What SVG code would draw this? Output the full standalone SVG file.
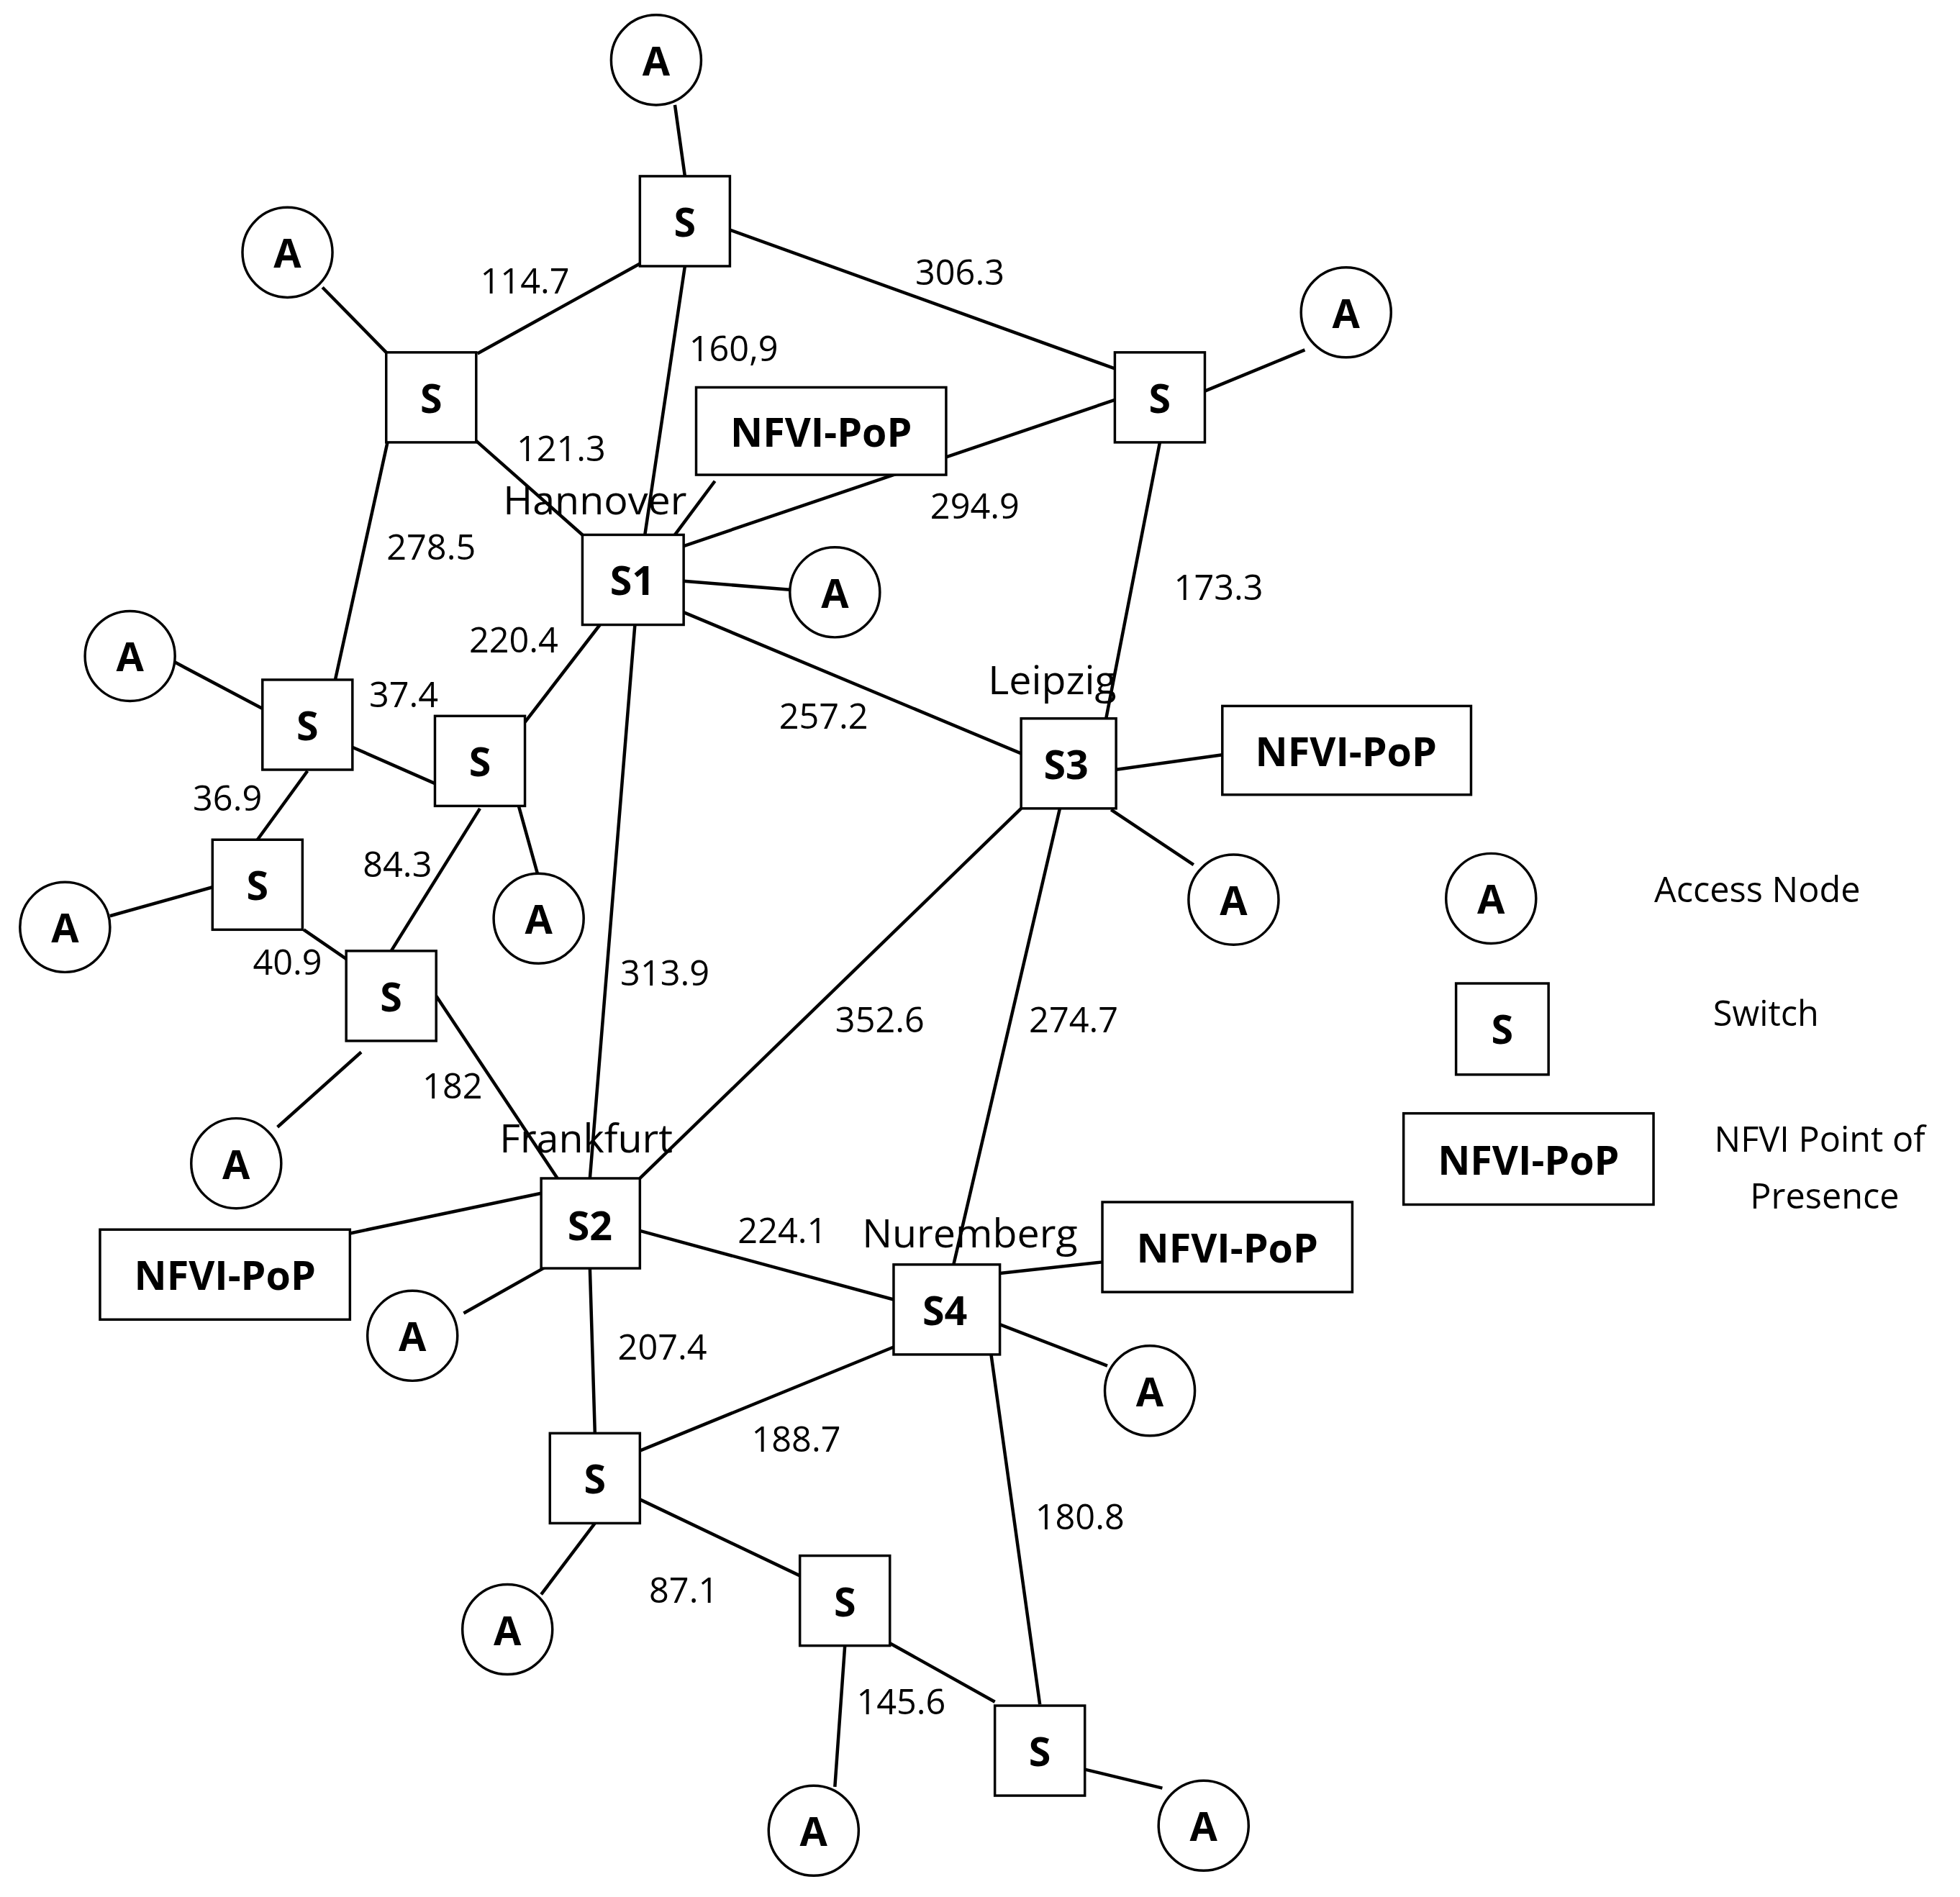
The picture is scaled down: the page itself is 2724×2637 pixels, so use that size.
<svg xmlns="http://www.w3.org/2000/svg" width="2724" height="2637" viewBox="0 0 2724 2637">
<style>
.e{stroke:#000;stroke-width:2.6;fill:none}
.c{fill:#fff;stroke:#000;stroke-width:2}
.b{font-family:"Open Sans","Liberation Sans",sans-serif;font-weight:bold;font-size:32px;text-anchor:middle;dominant-baseline:central}
.t{font-family:"Open Sans","Liberation Sans",sans-serif;font-size:28px;text-anchor:middle;dominant-baseline:central}
</style>
<rect width="2724" height="2637" fill="#fff"/>
<g transform="scale(1.737)">
<g id="connectors">
<path class="e" d="M540,84L548,141M512,211L382,283M584,184L892,295M548,213L516,428M258,230L310,283M380,352L466,428M310,354L268,545M964,313L1044,280M928,354L885,575M572,385L540,428M892,320L547,437M547,465L632,472M547,490L817,603M480,500L420,578M508,500L472,943M140,530L210,567M282,598L348,627M246,617L206,672M415,645L430,699M384,647L313,761M88,733L170,710M243,744L278,768M349,797L446,943M222,902L289,842M885,617L978,604M889,648L955,692M817,647L512,943M848,647L763,1012M433,955L280,987M440,1012L371,1051M512,985L715,1040M472,1015L476,1147M800,1019L882,1010M800,1060L886,1093M715,1078L512,1161M793,1084L832,1364M476,1219L433,1276M512,1200L640,1261M676,1317L668,1430M712,1315L796,1362M868,1416L930,1431"/>
</g>
<g id="A1"><circle class="c" cx="525" cy="48" r="36"/><text class="b" x="525" y="48">A</text></g>
<g id="A2"><circle class="c" cx="230" cy="202" r="36"/><text class="b" x="230" y="202">A</text></g>
<g id="A3"><circle class="c" cx="1077" cy="250" r="36"/><text class="b" x="1077" y="250">A</text></g>
<g id="A4"><circle class="c" cx="668" cy="474" r="36"/><text class="b" x="668" y="474">A</text></g>
<g id="A5"><circle class="c" cx="104" cy="525" r="36"/><text class="b" x="104" y="525">A</text></g>
<g id="A6"><circle class="c" cx="431" cy="735" r="36"/><text class="b" x="431" y="735">A</text></g>
<g id="A7"><circle class="c" cx="52" cy="742" r="36"/><text class="b" x="52" y="742">A</text></g>
<g id="A8"><circle class="c" cx="189" cy="931" r="36"/><text class="b" x="189" y="931">A</text></g>
<g id="A9"><circle class="c" cx="987" cy="720" r="36"/><text class="b" x="987" y="720">A</text></g>
<g id="A10"><circle class="c" cx="330" cy="1069" r="36"/><text class="b" x="330" y="1069">A</text></g>
<g id="A11"><circle class="c" cx="920" cy="1113" r="36"/><text class="b" x="920" y="1113">A</text></g>
<g id="A12"><circle class="c" cx="406" cy="1304" r="36"/><text class="b" x="406" y="1304">A</text></g>
<g id="A13"><circle class="c" cx="651" cy="1465" r="36"/><text class="b" x="651" y="1465">A</text></g>
<g id="A14"><circle class="c" cx="963" cy="1461" r="36"/><text class="b" x="963" y="1461">A</text></g>
<g id="Stop"><rect class="c" x="512" y="141" width="72" height="72"/><text class="b" x="548" y="177">S</text></g>
<g id="Stl"><rect class="c" x="309" y="282" width="72" height="72"/><text class="b" x="345" y="318">S</text></g>
<g id="Str"><rect class="c" x="892" y="282" width="72" height="72"/><text class="b" x="928" y="318">S</text></g>
<g id="S1"><rect class="c" x="466" y="428" width="81" height="72"/><text class="b" x="506" y="464">S1</text></g>
<g id="Sl1"><rect class="c" x="210" y="544" width="72" height="72"/><text class="b" x="246" y="580">S</text></g>
<g id="Sl2"><rect class="c" x="348" y="573" width="72" height="72"/><text class="b" x="384" y="609">S</text></g>
<g id="Sl3"><rect class="c" x="170" y="672" width="72" height="72"/><text class="b" x="206" y="708">S</text></g>
<g id="Sl4"><rect class="c" x="277" y="761" width="72" height="72"/><text class="b" x="313" y="797">S</text></g>
<g id="S3"><rect class="c" x="817" y="575" width="76" height="72"/><text class="b" x="853" y="611">S3</text></g>
<g id="S2"><rect class="c" x="433" y="943" width="79" height="72"/><text class="b" x="472" y="980">S2</text></g>
<g id="S4"><rect class="c" x="715" y="1012" width="85" height="72"/><text class="b" x="756" y="1048">S4</text></g>
<g id="Sb1"><rect class="c" x="440" y="1147" width="72" height="72"/><text class="b" x="476" y="1183">S</text></g>
<g id="Sb2"><rect class="c" x="640" y="1245" width="72" height="72"/><text class="b" x="676" y="1281">S</text></g>
<g id="Sb3"><rect class="c" x="796" y="1365" width="72" height="72"/><text class="b" x="832" y="1401">S</text></g>
<g id="N1"><rect class="c" x="557" y="310" width="200" height="70"/><text class="b" x="657" y="345">NFVI-PoP</text></g>
<g id="N3"><rect class="c" x="978" y="565" width="199" height="71"/><text class="b" x="1077" y="601">NFVI-PoP</text></g>
<g id="N2"><rect class="c" x="80" y="984" width="200" height="72"/><text class="b" x="180" y="1020">NFVI-PoP</text></g>
<g id="N4"><rect class="c" x="882" y="962" width="200" height="72"/><text class="b" x="982" y="998">NFVI-PoP</text></g>
<g id="legend">
<circle class="c" cx="1193" cy="719" r="36"/><text class="b" x="1193" y="719">A</text>
<rect class="c" x="1165" y="787" width="74" height="73"/><text class="b" x="1202" y="823">S</text>
<rect class="c" x="1123" y="891" width="200" height="73"/><text class="b" x="1223" y="928">NFVI-PoP</text>
<text class="t" x="1406" y="711">Access Node</text>
<text class="t" x="1413" y="810">Switch</text>
<text class="t" x="1456" y="911">NFVI Point of</text>
<text class="t" x="1460" y="956">Presence</text>
</g>
<g id="labels">
<text class="t" x="420" y="224">114.7</text><text class="t" x="768" y="217">306.3</text>
<text class="t" x="587" y="278">160,9</text><text class="t" x="449" y="358">121.3</text>
<text class="t" x="476" y="399" style="font-size:32px">Hannover</text><text class="t" x="780" y="404">294.9</text>
<text class="t" x="345" y="437">278.5</text><text class="t" x="975" y="469">173.3</text>
<text class="t" x="411" y="511">220.4</text><text class="t" x="842" y="543" style="font-size:32px">Leipzig</text>
<text class="t" x="323" y="555">37.4</text><text class="t" x="659" y="572">257.2</text>
<text class="t" x="182" y="638">36.9</text><text class="t" x="318" y="691">84.3</text>
<text class="t" x="230" y="769">40.9</text><text class="t" x="532" y="778">313.9</text>
<text class="t" x="704" y="815">352.6</text><text class="t" x="859" y="815">274.7</text>
<text class="t" x="362" y="868">182</text><text class="t" x="469" y="910" style="font-size:32px">Frankfurt</text>
<text class="t" x="626" y="984">224.1</text><text class="t" x="776" y="986" style="font-size:32px">Nuremberg</text>
<text class="t" x="530" y="1077">207.4</text><text class="t" x="637" y="1151">188.7</text>
<text class="t" x="864" y="1213">180.8</text><text class="t" x="547" y="1272">87.1</text>
<text class="t" x="721" y="1361">145.6</text>
</g>
</g>
</svg>
